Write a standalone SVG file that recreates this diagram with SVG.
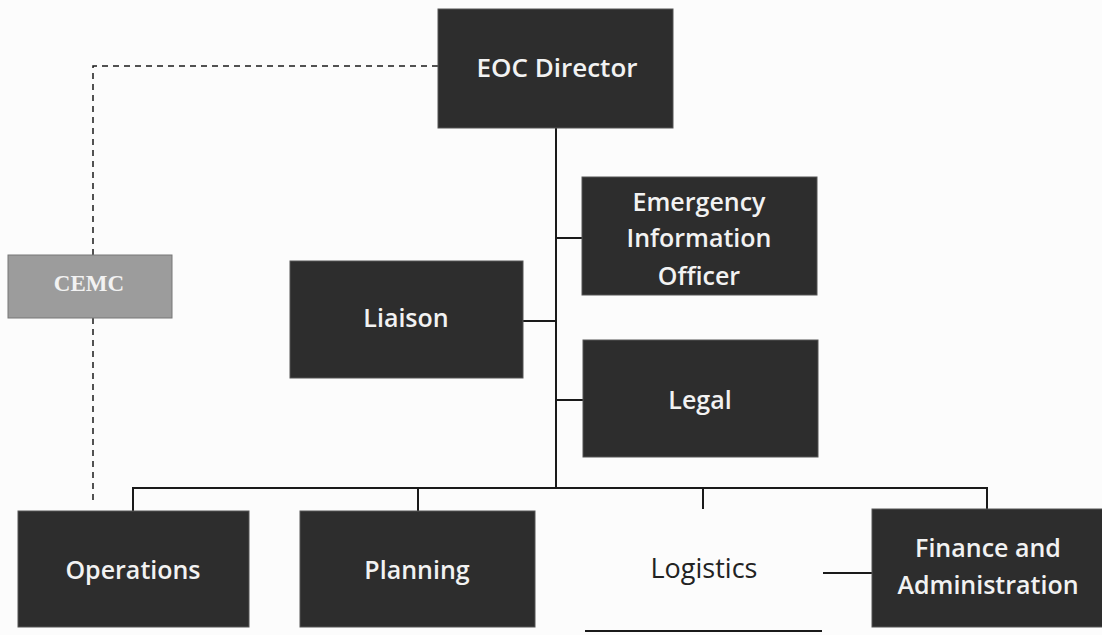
<svg xmlns="http://www.w3.org/2000/svg" width="1102" height="635" viewBox="0 0 1102 635">
<style>
.box{fill:#2d2d2d;stroke:#555;stroke-width:1}
.gbox{fill:#9c9c9c;stroke:#777;stroke-width:1}
.t{font-family:"Open Sans","Liberation Sans",sans-serif;font-size:25px;font-weight:600;fill:#f2f2f2;text-anchor:middle}
.dk{fill:#222;font-weight:400;font-size:27px}
.serif{font-family:"Liberation Serif",serif;font-weight:700;font-size:23px}
.ln{stroke:#1a1a1a;stroke-width:2;fill:none}
.dash{stroke:#1a1a1a;stroke-width:1.5;fill:none;stroke-dasharray:6 5}
</style>
<rect width="1102" height="635" fill="#fcfcfc"/>
<g id="connectors">
<path class="dash" d="M438 66 H93 V255"/>
<path class="dash" d="M93 318 V505"/>
<path class="ln" d="M556 128 V488"/>
<path class="ln" d="M556 238 H582"/>
<path class="ln" d="M523 321 H556"/>
<path class="ln" d="M556 400 H583"/>
<path class="ln" d="M133 511 V488 H987 V509"/>
<path class="ln" d="M418 488 V511"/>
<path class="ln" d="M703 488 V509"/>
<path class="ln" d="M823 573 H872"/>
<path class="ln" d="M585 631 H822"/>
</g>
<g id="eoc-director"><rect class="box" x="438" y="9" width="235" height="119"/><text class="t" x="557" y="77" style="font-size:26px">EOC Director</text></g>
<g id="cemc"><rect class="gbox" x="8" y="255" width="164" height="63"/><text class="t serif" x="89" y="291">CEMC</text></g>
<g id="eio"><rect class="box" x="582" y="177" width="235" height="118"/><text class="t" x="699" y="211">Emergency</text><text class="t" x="699" y="247">Information</text><text class="t" x="699" y="285">Officer</text></g>
<g id="liaison"><rect class="box" x="290" y="261" width="233" height="117"/><text class="t" x="406" y="327">Liaison</text></g>
<g id="legal"><rect class="box" x="583" y="340" width="235" height="117"/><text class="t" x="700" y="409">Legal</text></g>
<g id="operations"><rect class="box" x="18" y="511" width="231" height="116"/><text class="t" x="133" y="579">Operations</text></g>
<g id="planning"><rect class="box" x="300" y="511" width="235" height="116"/><text class="t" x="417" y="579">Planning</text></g>
<g id="logistics"><text class="t dk" x="704" y="578">Logistics</text></g>
<g id="finance"><rect class="box" x="872" y="509" width="231" height="118"/><text class="t" x="988" y="557">Finance and</text><text class="t" x="988" y="594">Administration</text></g>
</svg>
